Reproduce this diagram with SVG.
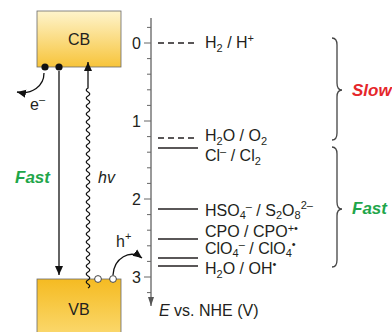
<svg xmlns="http://www.w3.org/2000/svg" width="392" height="332" viewBox="0 0 392 332">
<defs>
<linearGradient id="gCB" x1="0" y1="0" x2="0" y2="1"><stop offset="0" stop-color="#fef4cc"/><stop offset="1" stop-color="#f7c43a"/></linearGradient>
<linearGradient id="gVB" x1="0" y1="0" x2="0" y2="1"><stop offset="0" stop-color="#f5bb22"/><stop offset="1" stop-color="#fbda72"/></linearGradient>
<marker id="ah" markerWidth="10" markerHeight="10" refX="9" refY="5" orient="auto" markerUnits="userSpaceOnUse"><path d="M0,1 L9,5 L0,9 z" fill="#111"/></marker>
<marker id="ax" markerWidth="10" markerHeight="10" refX="9" refY="5" orient="auto" markerUnits="userSpaceOnUse"><path d="M0,2 L9,5 L0,8 z" fill="#555"/></marker>
<style>
text{font-family:"Liberation Sans",Arial,sans-serif;font-size:16px;fill:#231f20}
.s{font-size:11px}
.lvl{stroke:#231f20;stroke-width:1.3;fill:none}
.dash{stroke-dasharray:6,4}
.tk{stroke:#666;stroke-width:1}
.br{stroke:#444;stroke-width:1.3;fill:none}
.fast{fill:#1fa64a;font-weight:bold;font-style:italic;font-size:17px}
.slow{fill:#e5262b;font-weight:bold;font-style:italic;font-size:17px}
.num{text-anchor:end}
</style>
</defs>

<g id="CB">
<rect x="37" y="11" width="84" height="56" fill="url(#gCB)" stroke="#6a6a6a" stroke-width="0.8"/>
<text x="79" y="45" text-anchor="middle">CB</text>
</g>
<g id="VB">
<rect x="37" y="279" width="84" height="60" fill="url(#gVB)" stroke="#6a6a6a" stroke-width="0.8"/>
<text x="79" y="315" text-anchor="middle">VB</text>
</g>

<g id="connectors" fill="none" stroke="#111" stroke-width="1.3">
<path d="M59,71 L59,275" marker-end="url(#ah)"/>
<path d="M88,288 q3.5,-2 0,-4 t0,-4 t0,-4 t0,-4 t0,-4 t0,-4 t0,-4 t0,-4 t0,-4 t0,-4 t0,-4 t0,-4 t0,-4 t0,-4 t0,-4 t0,-4 t0,-4 t0,-4 t0,-4 t0,-4 t0,-4 t0,-4 t0,-4 t0,-4 t0,-4 t0,-4 t0,-4 t0,-4 t0,-4 t0,-4 t0,-4 t0,-4 t0,-4 t0,-4 t0,-4 t0,-4 t0,-4 t0,-4 t0,-4 t0,-4 t0,-4 t0,-4 t0,-4 t0,-4 t0,-4 t0,-4 t0,-4 t0,-4 t0,-4 t0,-4 L88,62" marker-end="url(#ah)"/>
<path d="M44,73 C44,86 32,95 17,92" marker-end="url(#ah)"/>
<path d="M113,275 C114,258 130,249 142,258" marker-end="url(#ah)"/>
</g>

<g id="carriers">
<circle cx="45" cy="67" r="3.6" fill="#111"/>
<circle cx="59" cy="67" r="3.6" fill="#111"/>
<circle cx="98" cy="279" r="3.4" fill="#fff" stroke="#444" stroke-width="1"/>
<circle cx="113" cy="279" r="3.4" fill="#fff" stroke="#444" stroke-width="1"/>
</g>

<g id="left-labels">
<text x="30" y="110">e<tspan class="s" dy="-7">–</tspan></text>
<text x="15" y="183" class="fast">Fast</text>
<text x="98" y="183" font-style="italic">hv</text>
<text x="116" y="247">h<tspan class="s" dy="-7">+</tspan></text>
</g>

<g id="axis">
<line x1="151" y1="18" x2="151" y2="306" stroke="#555" stroke-width="1.2" marker-end="url(#ax)"/>
<g class="tk">
<line x1="147" y1="27.4" x2="151" y2="27.4"/>
<line x1="144" y1="43" x2="151" y2="43"/>
<line x1="147" y1="58.6" x2="151" y2="58.6"/>
<line x1="147" y1="74.2" x2="151" y2="74.2"/>
<line x1="147" y1="89.8" x2="151" y2="89.8"/>
<line x1="147" y1="105.4" x2="151" y2="105.4"/>
<line x1="144" y1="121" x2="151" y2="121"/>
<line x1="147" y1="136.6" x2="151" y2="136.6"/>
<line x1="147" y1="152.2" x2="151" y2="152.2"/>
<line x1="147" y1="167.8" x2="151" y2="167.8"/>
<line x1="147" y1="183.4" x2="151" y2="183.4"/>
<line x1="144" y1="199" x2="151" y2="199"/>
<line x1="147" y1="214.6" x2="151" y2="214.6"/>
<line x1="147" y1="230.2" x2="151" y2="230.2"/>
<line x1="147" y1="245.8" x2="151" y2="245.8"/>
<line x1="147" y1="261.4" x2="151" y2="261.4"/>
<line x1="144" y1="277" x2="151" y2="277"/>
<line x1="147" y1="292.6" x2="151" y2="292.6"/>
</g>
<text x="141" y="48.5" class="num">0</text>
<text x="141" y="126.5" class="num">1</text>
<text x="141" y="204.5" class="num">2</text>
<text x="141" y="282.5" class="num">3</text>
<text x="159" y="316"><tspan font-style="italic">E</tspan> vs. NHE (V)</text>
</g>

<g id="levels">
<line class="lvl dash" x1="158" y1="43" x2="198" y2="43"/>
<line class="lvl dash" x1="158" y1="138" x2="198" y2="138"/>
<line class="lvl" x1="158" y1="148" x2="198" y2="148"/>
<line class="lvl" x1="158" y1="209" x2="198" y2="209"/>
<line class="lvl" x1="158" y1="239" x2="198" y2="239"/>
<line class="lvl" x1="158" y1="258" x2="198" y2="258"/>
<line class="lvl" x1="158" y1="266" x2="198" y2="266"/>
<text x="205" y="48">H<tspan class="s" dy="4">2</tspan><tspan dy="-4"> / H</tspan><tspan class="s" dy="-6">+</tspan></text>
<text x="205" y="141">H<tspan class="s" dy="4">2</tspan><tspan dy="-4">O / O</tspan><tspan class="s" dy="4">2</tspan></text>
<text x="205" y="161">Cl<tspan class="s" dy="-6">–</tspan><tspan dy="6"> / Cl</tspan><tspan class="s" dy="4">2</tspan></text>
<text x="205" y="216">HSO<tspan class="s" dy="3">4</tspan><tspan class="s" dy="-9">–</tspan><tspan dy="6"> / S</tspan><tspan class="s" dy="3">2</tspan><tspan dy="-3">O</tspan><tspan class="s" dy="3">8</tspan><tspan class="s" dy="-10">2–</tspan></text>
<text x="205" y="237">CPO / CPO<tspan class="s" dy="-5">+•</tspan></text>
<text x="205" y="254">ClO<tspan class="s" dy="3">4</tspan><tspan class="s" dy="-9">–</tspan><tspan dy="6"> / ClO</tspan><tspan class="s" dy="3">4</tspan><tspan class="s" dy="-9">•</tspan></text>
<text x="205" y="274">H<tspan class="s" dy="4">2</tspan><tspan dy="-4">O / OH</tspan><tspan class="s" dy="-6">•</tspan></text>
</g>

<g id="braces">
<path class="br" d="M332,38 Q337,38 337,45 L337,83 Q337,90 342,90 Q337,90 337,97 L337,133 Q337,140 332,140"/>
<path class="br" d="M332,147 Q337,147 337,154 L337,202 Q337,209 342,209 Q337,209 337,216 L337,260 Q337,267 332,267"/>
<text x="352" y="96" class="slow">Slow</text>
<text x="352" y="214" class="fast">Fast</text>
</g>
</svg>
